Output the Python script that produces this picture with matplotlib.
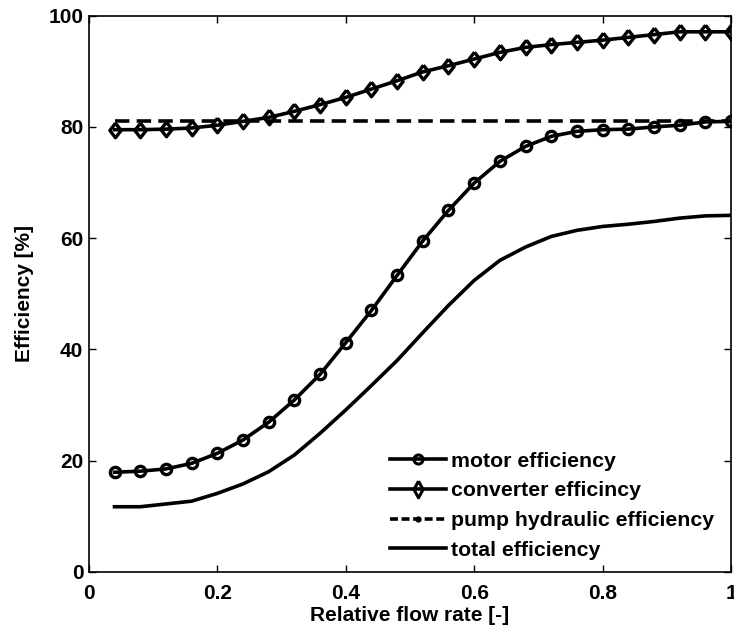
import matplotlib.pyplot as plt
from matplotlib.lines import Line2D
import numpy as np

plt.rcParams['font.family'] = ['Liberation Sans', 'DejaVu Sans']
plt.rcParams['font.weight'] = 'bold'

flow = [0.04, 0.08, 0.12, 0.16, 0.20, 0.24, 0.28, 0.32, 0.36, 0.40, 0.44, 0.48, 0.52,
        0.56, 0.60, 0.64, 0.68, 0.72, 0.76, 0.80, 0.84, 0.88, 0.92, 0.96, 1.00]

motor_eff = [17.9, 18.1, 18.5, 19.5, 21.3, 23.7, 26.9, 30.9, 35.5, 41.2, 47.0, 53.3, 59.5,
             65.0, 69.9, 73.8, 76.5, 78.3, 79.2, 79.5, 79.6, 80.0, 80.3, 80.9, 81.0]
converter_eff = [79.5, 79.5, 79.6, 79.8, 80.3, 81.0, 81.7, 82.8, 84.0, 85.3, 86.8, 88.3, 89.9,
                 91.0, 92.2, 93.4, 94.3, 94.8, 95.2, 95.6, 96.1, 96.6, 97.1, 97.1, 97.1]
pump_eff = [81.0] * 25
total_eff = [11.7, 11.7, 12.2, 12.7, 14.1, 15.8, 18.0, 21.0, 24.9, 29.1, 33.5, 38.0, 43.0,
             47.9, 52.4, 56.0, 58.4, 60.3, 61.4, 62.1, 62.5, 63.0, 63.6, 64.0, 64.1]

# matlab style diamond, a bit taller than wide
diamond = [(0, 1), (0.78, 0), (0, -1), (-0.78, 0), (0, 1)]
thin_diamond = [(0, 1), (0.55, 0), (0, -1), (-0.55, 0), (0, 1)]

fig = plt.figure(figsize=(7.34, 6.27), dpi=100)
ax = fig.add_axes([0.121, 0.088, 0.875, 0.887])

lw = 2.6
ax.plot(flow, motor_eff, '-o', color='black', lw=lw, ms=7.4, mfc='none', mew=2.4)
ax.plot(flow, converter_eff, '-', marker=diamond, color='black', lw=lw, ms=10.5,
        mfc='none', mew=2.4)
ax.plot(flow, pump_eff, '--', color='black', lw=lw, dashes=(4, 2))
ax.plot(flow, total_eff, '-', color='black', lw=lw)

# legend entries drawn like the matlab ones (smaller markers)
handles = [
    Line2D([], [], color='black', lw=lw, marker='o', ms=6.5, mfc='none', mew=2.2),
    Line2D([], [], color='black', lw=lw, marker=thin_diamond, ms=12, mfc='none', mew=2.2),
    Line2D([], [], color='black', lw=lw, ls='--', dashes=(2.2, 1), marker='.', ms=7),
    Line2D([], [], color='black', lw=lw),
]
labels = ['motor efficiency', 'converter efficincy', 'pump hydraulic efficiency',
          'total efficiency']

ax.set_xlim(0, 1)
ax.set_ylim(0, 100)
ax.set_xticks(np.arange(0, 1.01, 0.2))
ax.set_xticklabels(['0', '0.2', '0.4', '0.6', '0.8', '1'])
ax.set_yticks(np.arange(0, 101, 20))
ax.tick_params(direction='in', top=True, right=True, labelsize=15, length=5, width=1)
ax.tick_params(axis='y', pad=4)
ax.tick_params(axis='x', pad=9)
for s in ax.spines.values():
    s.set_linewidth(1.2)

ax.set_xlabel('Relative flow rate [-]', fontsize=15, fontweight='bold', labelpad=2)
ax.set_ylabel('Efficiency [%]', fontsize=15, fontweight='bold', labelpad=10)

ax.legend(handles, labels, loc='lower left', bbox_to_anchor=(0.469, 0.022),
          frameon=False, handlelength=2.64, handletextpad=0.24, labelspacing=0.5,
          borderpad=0, borderaxespad=0, prop={'weight': 'bold', 'size': 15.3})

fig.savefig('out.png', dpi=100)
